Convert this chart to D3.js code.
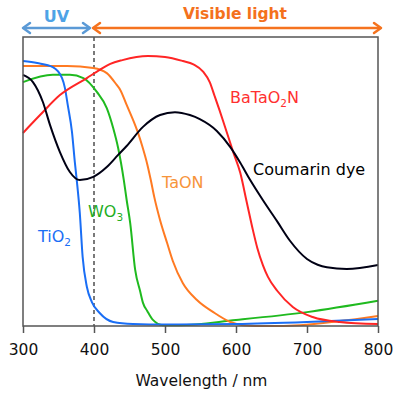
<!DOCTYPE html>
<html>
<head>
<meta charset="utf-8">
<script src="https://d3js.org/d3.v7.min.js"></script>
<style>
  body { margin: 0; background: #fff; }
  text { font-family: "DejaVu Sans", sans-serif; }
</style>
</head>
<body>
<script>
// absorbance spectra, [wavelength nm, absorbance a.u.]
const tio2 = [[300,0.917],[320,0.910],[342,0.896],[355,0.858],[359,0.824],[363,0.765],[369,0.671],[373,0.567],[376,0.498],[380,0.391],[384,0.239],[390,0.135],[397,0.083],[408,0.045],[427,0.014],[455,0.007],[500,0.005],[600,0.007],[700,0.014],[800,0.024]];
const wo3 = [[300,0.844],[342,0.869],[366,0.869],[385,0.858],[404,0.810],[418,0.754],[427,0.685],[434,0.616],[442,0.505],[446,0.436],[451,0.356],[458,0.194],[465,0.120],[469,0.080],[475,0.052],[483,0.021],[497,0.003],[520,0.003],[600,0.021],[700,0.048],[800,0.087]];
const taon = [[300,0.900],[362,0.900],[399,0.893],[418,0.875],[432,0.834],[437,0.817],[446,0.765],[455,0.713],[462,0.668],[468,0.622],[475,0.560],[480,0.505],[485,0.445],[493,0.367],[503,0.287],[511,0.225],[525,0.149],[545,0.090],[568,0.048],[592,0.014],[610,0.003],[644,0.000],[690,0.003],[746,0.017],[800,0.035]];
const batao2n = [[300,0.668],[324,0.730],[352,0.799],[390,0.858],[408,0.886],[423,0.907],[440,0.920],[476,0.934],[500,0.931],[525,0.917],[540,0.905],[554,0.879],[563,0.844],[570,0.795],[577,0.745],[584,0.693],[590,0.648],[596,0.602],[606,0.530],[615,0.430],[624,0.330],[630,0.270],[638,0.210],[645,0.170],[658,0.122],[680,0.066],[708,0.031],[746,0.014],[800,0.007]];
const coumarin = [[300,0.869],[314,0.844],[328,0.775],[338,0.696],[352,0.602],[366,0.533],[380,0.505],[399,0.516],[418,0.550],[434,0.592],[446,0.623],[469,0.689],[493,0.730],[514,0.740],[535,0.730],[549,0.716],[573,0.675],[592,0.619],[606,0.565],[620,0.505],[638,0.435],[658,0.362],[676,0.295],[700,0.232],[715,0.212],[728,0.203],[756,0.197],[800,0.211]];

const xTicks = [300, 400, 500, 600, 700, 800];
const uvEdge = 400;

const series = [
  {data: wo3, color: "#1fba1f"},
  {data: taon, color: "#ff7a22"},
  {data: tio2, color: "#1a6ef5"},
  {data: batao2n, color: "#ff2525"},
  {data: coumarin, color: "#000014"}
];

// [text, isSubscript]
const labels = [
  {parts: [["BaTaO", 0], ["2", 1], ["N", 0]], x: 230, y: 103, color: "#ff3030"},
  {parts: [["Coumarin dye", 0]], x: 253, y: 175, color: "#000"},
  {parts: [["TaON", 0]], x: 162, y: 188, color: "#f7943a"},
  {parts: [["WO", 0], ["3", 1]], x: 88, y: 217, color: "#1fae1f"},
  {parts: [["TiO", 0], ["2", 1]], x: 38, y: 242, color: "#1a6ef5"}
];

const W = 400, H = 393;
const mLeft = 23, mRight = 378, mTop = 37, mBottom = 326;

const svg = d3.select("body").append("svg")
  .attr("width", W).attr("height", H);

const x = d3.scaleLinear().domain([300, 800]).range([mLeft, mRight]);
const y = d3.scaleLinear().domain([0, 1]).range([mBottom, mTop]);

// dashed line at 400 nm
svg.append("line")
  .attr("x1", x(uvEdge)).attr("x2", x(uvEdge))
  .attr("y1", mTop).attr("y2", mBottom)
  .attr("stroke", "#222").attr("stroke-width", 1.2)
  .attr("stroke-dasharray", "4,3");

const line = d3.line()
  .x(d => x(d[0])).y(d => y(d[1]))
  .curve(d3.curveMonotoneX);

svg.append("g").selectAll("path")
  .data(series)
  .enter().append("path")
  .attr("d", d => line(d.data))
  .attr("fill", "none")
  .attr("stroke", d => d.color)
  .attr("stroke-width", 2);

// frame
svg.append("rect")
  .attr("x", mLeft).attr("y", mTop)
  .attr("width", mRight - mLeft).attr("height", mBottom - mTop)
  .attr("fill", "none").attr("stroke", "#555").attr("stroke-width", 1.5);

const xAxis = svg.append("g")
  .attr("transform", "translate(0," + mBottom + ")")
  .call(d3.axisBottom(x).tickValues(xTicks).tickSize(7).tickPadding(11).tickFormat(d3.format("d")));
xAxis.select(".domain").remove();
xAxis.selectAll("line").attr("stroke", "#555").attr("stroke-width", 1.5);
xAxis.selectAll("text").attr("font-size", 15.5).attr("fill", "#111")
  .attr("font-family", "DejaVu Sans, sans-serif");

svg.append("text")
  .attr("x", (mLeft + mRight) / 2 + 1).attr("y", 386)
  .attr("text-anchor", "middle")
  .attr("font-size", 15.5).attr("fill", "#111")
  .text("Wavelength / nm");

// series labels with subscripts
labels.forEach(l => {
  const t = svg.append("text")
    .attr("x", l.x).attr("y", l.y)
    .attr("font-size", 16).attr("fill", l.color);
  let shifted = 0;
  l.parts.forEach(p => {
    const s = t.append("tspan").text(p[0]);
    if (p[1]) { s.attr("font-size", 10.5).attr("dy", 4); shifted = 4; }
    else if (shifted) { s.attr("dy", -shifted); shifted = 0; }
  });
});

// UV / visible range arrows
function arrow(x1, x2, yy, color) {
  svg.append("line")
    .attr("x1", x1 + 1).attr("x2", x2 - 1).attr("y1", yy).attr("y2", yy)
    .attr("stroke", color).attr("stroke-width", 2.5);
  [[x1, 1], [x2, -1]].forEach(([px, dir]) => {
    svg.append("path")
      .attr("d", "M" + (px + dir * 7) + "," + (yy - 5) + "L" + px + "," + yy + "L" + (px + dir * 7) + "," + (yy + 5))
      .attr("fill", "none").attr("stroke", color).attr("stroke-width", 2.5)
      .attr("stroke-linejoin", "round").attr("stroke-linecap", "round");
  });
}
arrow(x(300), x(uvEdge) - 4, 28, "#5b9ad6");
arrow(x(uvEdge) - 1, x(800) + 3, 28, "#f5731f");

svg.append("text")
  .attr("x", (x(300) + x(uvEdge)) / 2 - 2).attr("y", 22)
  .attr("text-anchor", "middle").attr("font-size", 16).attr("font-weight", "bold")
  .attr("fill", "#4ea3e6").text("UV");

svg.append("text")
  .attr("x", 235).attr("y", 19)
  .attr("text-anchor", "middle").attr("font-size", 15.5).attr("font-weight", "bold")
  .attr("fill", "#f4711c").text("Visible light");
</script>
</body>
</html>
